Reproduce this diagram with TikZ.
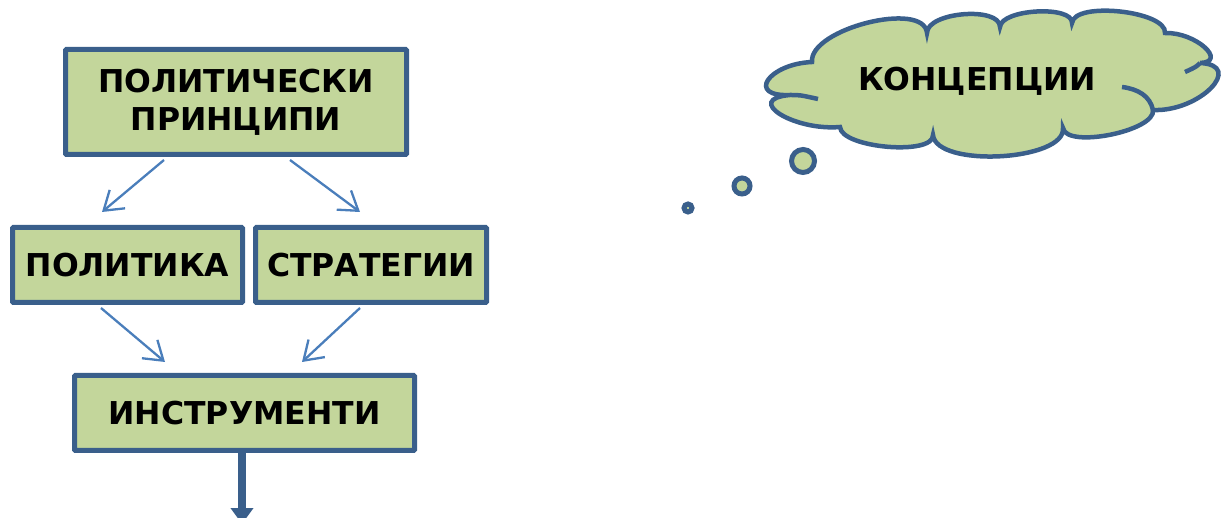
\documentclass[tikz,border=0pt]{standalone}
\usepackage{fontspec}
\setmainfont{DejaVu Sans}
\usepackage{tikz}
\usetikzlibrary{arrows.meta, calc}
\usepackage{xcolor}
\definecolor{boxline}{HTML}{3A5F8B}
\definecolor{boxfill}{HTML}{C3D69B}
\definecolor{arrowline}{HTML}{4A7EBB}

\begin{document}
\begin{tikzpicture}[x=1pt, y=-1pt,
  box/.style={rectangle, draw=boxline, fill=boxfill, line width=5pt, inner sep=0pt,
    rounded corners=1pt, font=\bfseries\fontsize{31.5}{38}\selectfont, align=center},
  flowarrow/.style={draw=arrowline, line width=2.3pt, -{Straight Barb[length=18pt, width=24pt]}},
  cloudline/.style={draw=boxline, line width=4.5pt},
  bubble/.style={circle, draw=boxline, fill=boxfill, line width=5pt, inner sep=0pt}]
\useasboundingbox (0,0) rectangle (1224,518);

% boxes
\node[box, minimum width=341pt, minimum height=105pt] (princ) at (236,102) {ПОЛИТИЧЕСКИ\\ПРИНЦИПИ};
\node[box, minimum width=230pt, minimum height=75pt] (pol) at (127.5,265) {ПОЛИТИКА};
\node[box, minimum width=231pt, minimum height=75pt] (strat) at (371,265) {СТРАТЕГИИ};
\node[box, minimum width=340pt, minimum height=75pt] (instr) at (244.5,413) {ИНСТРУМЕНТИ};

% arrows
\draw[flowarrow] ($(princ.south)+(-72,3)$) -- ($(pol.north)+(-25.5,-13)$);
\draw[flowarrow] ($(princ.south)+(54,3)$) -- ($(strat.north)+(-11,-13)$);
\draw[flowarrow] ($(pol.south)+(-26.5,3)$) -- ($(instr.north)+(-79.5,-11)$);
\draw[flowarrow] ($(strat.south)+(-11,3)$) -- ($(instr.north)+(57.5,-11)$);

% exit arrow
\coordinate (out) at (242,524);
\draw[line width=8pt, boxline, -{Triangle[length=16pt, width=22pt]}] (instr.south -| out) -- (out);

% cloud
\filldraw[cloudline, fill=boxfill] (790,95)
  .. controls (746,97) and (768,64) .. (812,62)
  .. controls (809,29) and (924,0) .. (927,33)
  .. controls (927,12) and (1000,6) .. (1000,27)
  .. controls (1001,9) and (1073,5) .. (1072,23)
  .. controls (1074,1) and (1167,11) .. (1165,33)
  .. controls (1196,32) and (1228,62) .. (1200,63)
  .. controls (1245,65) and (1200,112) .. (1153,110)
  .. controls (1156,131) and (1066,149) .. (1063,128)
  .. controls (1066,161) and (936,168) .. (933,135)
  .. controls (934,156) and (841,148) .. (840,127)
  .. controls (793,131) and (743,99) .. (790,95) -- cycle;
\draw[cloudline] (1153,110) .. controls (1150,96) and (1138,89) .. (1122,87);
\draw[cloudline] (1200,63) .. controls (1196,67) .. (1185,72);
\draw[cloudline] (790,95) .. controls (800,95) .. (818,99);
\node[font=\bfseries\fontsize{31.5}{38}\selectfont] (conc) at (977,81) {КОНЦЕПЦИИ};

% bubbles
\node[bubble, minimum size=23pt] (b1) at (803,161) {};
\node[bubble, minimum size=16pt] (b2) at (742,186) {};
\node[bubble, minimum size=8pt] (b3) at (688,208) {};
\end{tikzpicture}
\end{document}
